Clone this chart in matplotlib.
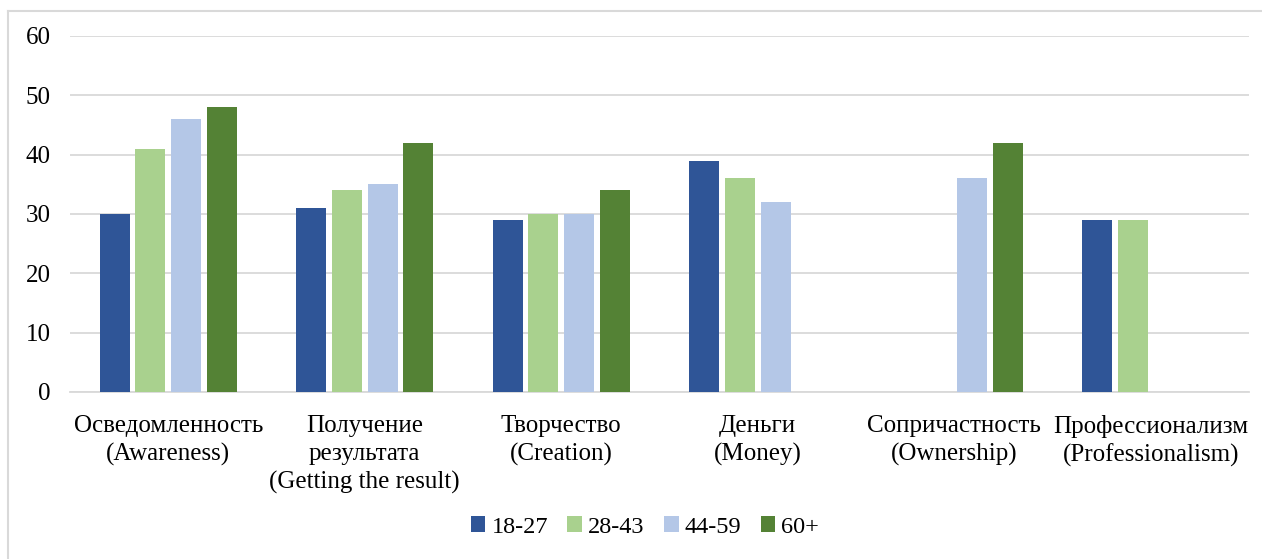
import numpy as np
import matplotlib.pyplot as plt
from matplotlib.lines import Line2D

plt.rcParams['font.family'] = ['Liberation Serif', 'DejaVu Serif']

categories = ['Осведомленность\n(Awareness)',
              'Получение\nрезультата\n(Getting the result)',
              'Творчество\n(Creation)',
              'Деньги\n(Money)',
              'Сопричастность\n(Ownership)',
              'Профессионализм\n(Professionalism)']
series = ['18-27', '28-43', '44-59', '60+']
# nan = no bar in that slot
v_18_27 = [30, 31, 29, 39, np.nan, 29]
v_28_43 = [41, 34, 30, 36, np.nan, 29]
v_44_59 = [46, 35, 30, 32, 36, np.nan]
v_60 = [48, 42, 34, np.nan, 42, np.nan]
colors = ['#2F5597', '#A9D18E', '#B4C7E7', '#548235']

values = [v_18_27, v_28_43, v_44_59, v_60]

W, H = 1262, 559
fig = plt.figure(figsize=(W / 100, H / 100), dpi=100)
ax = fig.add_axes([70 / W, 1 - 392 / H, (1249 - 70) / W, (392 - 36) / H])

x = np.arange(len(categories))
step = 0.181
width = 0.153
for i, (name, vals, c) in enumerate(zip(series, values, colors)):
    ax.bar(x + (i - 1.5) * step, vals, width, color=c, label=name, zorder=3)

ax.set_xlim(-0.5, len(categories) - 0.5)
ax.set_ylim(0, 60)
ax.set_yticks(range(0, 61, 10))
ax.set_xticks(x)
ax.set_xticklabels(categories, fontsize=18, linespacing=1.34)
ax.tick_params(axis='y', labelsize=18, length=0, pad=14)
ax.tick_params(axis='x', length=0, pad=16.5)
ax.grid(axis='y', color='#D9D9D9', lw=1.3, zorder=0)
for s in ['top', 'right', 'left']:
    ax.spines[s].set_visible(False)
ax.spines['bottom'].set_color('#D9D9D9')
ax.spines['bottom'].set_linewidth(1.3)

fig.legend(loc='center', bbox_to_anchor=(645 / W, 1 - 527 / H), ncol=4,
           frameon=False, fontsize=17.5, handlelength=0.6, handleheight=0.6,
           handletextpad=0.25, columnspacing=0.8)

# outer frame (top and left edges visible)
fig.add_artist(Line2D([8 / W, 1], [1 - 10.5 / H] * 2, color='#D9D9D9', lw=1.5,
                      transform=fig.transFigure))
fig.add_artist(Line2D([8 / W] * 2, [0, 1 - 10.5 / H], color='#D9D9D9', lw=1.5,
                      transform=fig.transFigure))

fig.savefig('out.png', dpi=100)
